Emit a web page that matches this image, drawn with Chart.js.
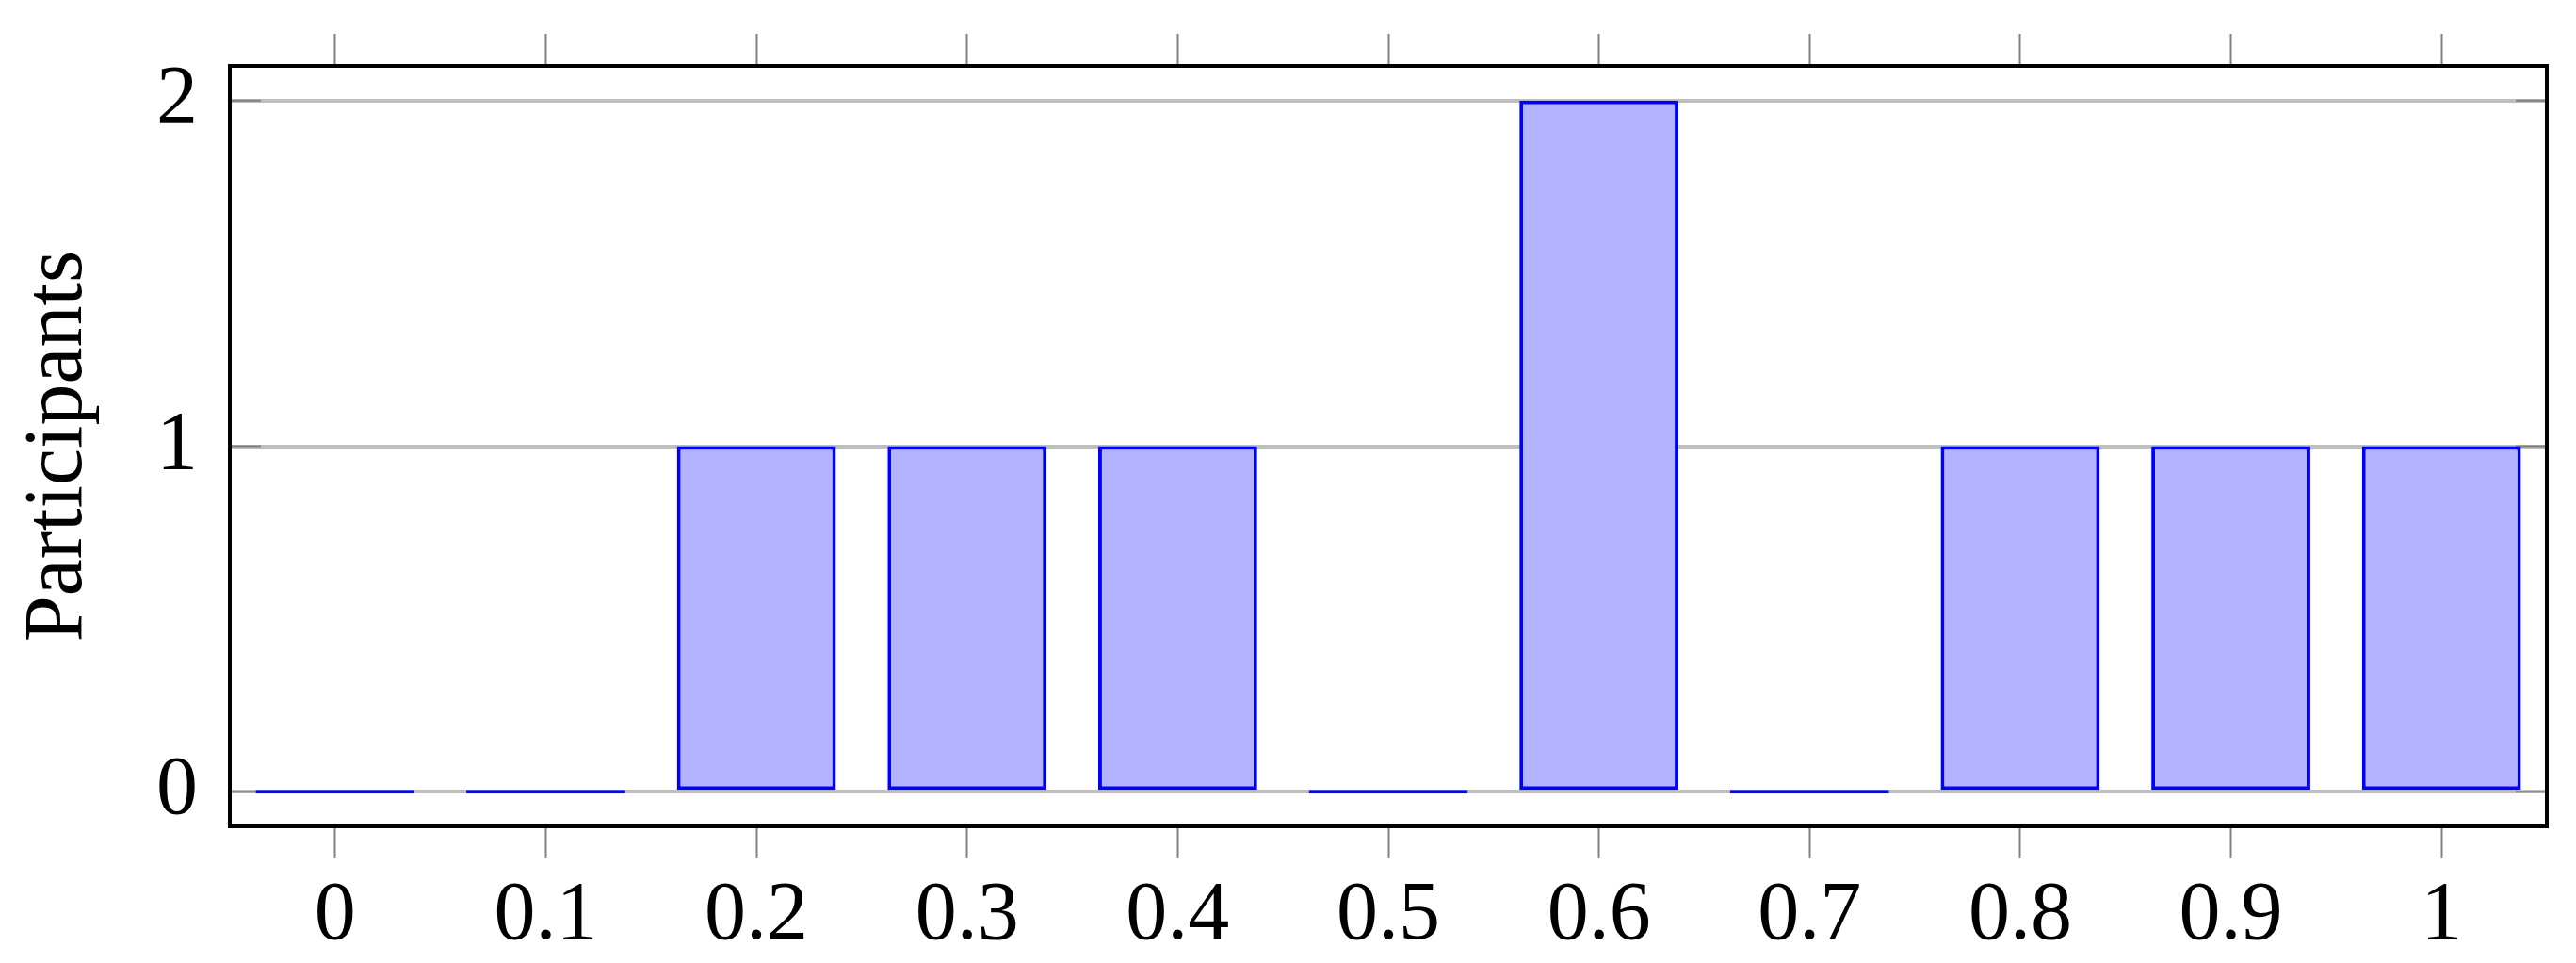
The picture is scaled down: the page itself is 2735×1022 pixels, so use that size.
<!DOCTYPE html>
<html>
<head>
<meta charset="utf-8">
<title>Participants histogram</title>
<script src="https://cdn.jsdelivr.net/npm/chart.js"></script>
<style>
    html, body { margin: 0; padding: 0; background: #ffffff; }
    #wrap { width: 2735px; height: 1022px; position: relative; }
</style>
</head>
<body>
<div id="wrap"><canvas id="chart"></canvas></div>
<script>
// data
const categories = ['0', '0.1', '0.2', '0.3', '0.4', '0.5', '0.6', '0.7', '0.8', '0.9', '1'];
const participants = [0, 0, 1, 1, 1, 0, 2, 0, 1, 1, 1];
const yTicks = [0, 1, 2];

const FONT = "'Liberation Serif', 'DejaVu Serif', serif";

// black frame round the plot area + short inner ticks on the y axis
const frame = {
    id: 'frame',
    beforeDatasetsDraw(chart) {
        const {ctx, chartArea: a, scales} = chart;
        ctx.save();
        ctx.strokeStyle = '#808080';
        ctx.lineWidth = 2;
        scales.y.ticks.forEach(t => {
            const py = scales.y.getPixelForValue(t.value);
            ctx.beginPath();
            ctx.moveTo(a.left, py); ctx.lineTo(a.left + 33, py);
            ctx.moveTo(a.right, py); ctx.lineTo(a.right - 33, py);
            ctx.stroke();
        });
        ctx.restore();
    },
    afterDraw(chart) {
        const {ctx, chartArea: a} = chart;
        ctx.save();
        ctx.strokeStyle = '#000000';
        ctx.lineWidth = 4;
        ctx.strokeRect(a.left, a.top, a.right - a.left, a.bottom - a.top);
        ctx.restore();
    }
};

new Chart(document.getElementById('chart'), {
    type: 'bar',
    data: {
        labels: categories,
        datasets: [{
            label: 'Participants',
            data: participants,
            backgroundColor: '#b3b3ff',
            borderColor: '#0000ff',
            borderWidth: 4,
            borderSkipped: false,
            minBarLength: 4,
            barPercentage: 0.755,
            categoryPercentage: 1.0
        }]
    },
    options: {
        responsive: true,
        maintainAspectRatio: false,
        animation: false,
        devicePixelRatio: 1,
        layout: { padding: { left: 0, right: 31, top: 0, bottom: 0 } },
        plugins: {
            legend: { display: false },
            tooltip: { enabled: false }
        },
        scales: {
            x: {
                type: 'category',
                position: 'bottom',
                offset: true,
                border: { display: false },
                grid: {
                    offset: false,
                    drawOnChartArea: false,
                    drawTicks: true,
                    tickLength: 34,
                    tickColor: '#808080',
                    tickWidth: 2
                },
                ticks: {
                    color: '#000000',
                    padding: 9,
                    maxRotation: 0,
                    autoSkip: false,
                    font: { family: FONT, size: 88 }
                },
                afterFit: s => { s.height = 145; s.paddingLeft = 0; s.paddingRight = 0; }
            },
            x2: {
                type: 'category',
                position: 'top',
                offset: true,
                border: { display: false },
                grid: {
                    offset: false,
                    drawOnChartArea: false,
                    drawTicks: true,
                    tickLength: 34,
                    tickColor: '#808080',
                    tickWidth: 2
                },
                ticks: { display: false, autoSkip: false },
                afterFit: s => { s.height = 70; s.paddingLeft = 0; s.paddingRight = 0; }
            },
            y: {
                min: -0.1,
                max: 2.1,
                border: { display: false },
                afterBuildTicks: s => { s.ticks = yTicks.map(v => ({ value: v })); },
                grid: {
                    color: '#bfbfbf',
                    lineWidth: 4,
                    drawTicks: false
                },
                ticks: {
                    color: '#000000',
                    padding: 34,
                    font: { family: FONT, size: 88 }
                },
                title: {
                    display: true,
                    text: 'Participants',
                    color: '#000000',
                    padding: { top: 10, bottom: 0 },
                    font: { family: FONT, size: 88, weight: 'normal' }
                },
                afterFit: s => { s.width = 244; s.paddingTop = 0; s.paddingBottom = 0; }
            }
        }
    },
    plugins: [frame]
});
</script>
</body>
</html>
